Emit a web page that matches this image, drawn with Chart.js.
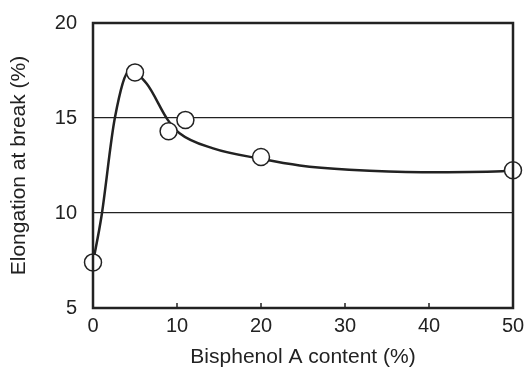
<!DOCTYPE html>
<html>
<head>
<meta charset="utf-8">
<script src="https://cdn.jsdelivr.net/npm/chart.js@4"></script>
<style>
  html, body { margin: 0; padding: 0; background: #fff; }
  #wrap { width: 525px; height: 370px; }
</style>
</head>
<body>
<div id="wrap"><canvas id="chart" width="525" height="370"></canvas></div>
<script>
// measured points
const contentX = [0, 5, 9, 11, 20, 50];
const elongationY = [7.4, 17.4, 14.3, 14.9, 12.95, 12.25];

// fitted curve
const curveX = [0, 1, 2.6, 4.4, 6.4, 8.9, 10.3, 14.3, 20, 24.6, 30.5, 39.2, 48.7, 50];
const curveY = [7.4, 9.8, 15.0, 17.5, 16.8, 14.9, 14.2, 13.4, 12.85, 12.5, 12.28, 12.15, 12.2, 12.25];

const xTicks = [0, 10, 20, 30, 40, 50];
const yTicks = [5, 10, 15, 20];
const gridValues = [10, 15];

const textColor = "#222";
const fontFamily = "'Liberation Sans', Arial, sans-serif";

// frame and inward tick marks
const framePlugin = {
  id: "frame",
  afterDatasetsDraw(chart) {
    const ctx = chart.ctx;
    const a = chart.chartArea;
    const xs = chart.scales.x;
    ctx.save();
    ctx.strokeStyle = "#222";
    ctx.lineWidth = 1.5;
    for (let i = 1; i < xTicks.length - 1; i++) {
      let px = xs.getPixelForValue(xTicks[i]);
      ctx.beginPath();
      ctx.moveTo(px, a.bottom);
      ctx.lineTo(px, a.bottom - 5);
      ctx.stroke();
    }
    ctx.lineWidth = 2.5;
    ctx.strokeRect(a.left, a.top, a.right - a.left, a.bottom - a.top);
    ctx.restore();
  }
};

function buildCurve() {
  let pts = [];
  for (let i = 0; i < curveX.length; i++) pts.push({ x: curveX[i], y: curveY[i] });
  return pts;
}

function buildPoints() {
  let pts = [];
  for (let i = 0; i < contentX.length; i++) pts.push({ x: contentX[i], y: elongationY[i] });
  return pts;
}

new Chart(document.getElementById("chart").getContext("2d"), {
  type: "scatter",
  data: {
    datasets: [
      {
        label: "Measured",
        data: buildPoints(),
        showLine: false,
        pointRadius: 8.5,
        pointHoverRadius: 8.5,
        pointBackgroundColor: "#fff",
        pointBorderColor: "#222",
        pointBorderWidth: 1.5,
        clip: false
      },
      {
        label: "Fit",
        data: buildCurve(),
        showLine: true,
        pointRadius: 0,
        borderColor: "#222",
        borderWidth: 2.5,
        cubicInterpolationMode: "monotone",
        fill: false
      }
    ]
  },
  plugins: [framePlugin],
  options: {
    responsive: false,
    animation: false,
    events: [],
    layout: { padding: { top: 23, right: 12, left: 0, bottom: 0 } },
    plugins: {
      legend: { display: false },
      tooltip: { enabled: false }
    },
    scales: {
      x: {
        type: "linear",
        min: 0,
        max: 50,
        afterBuildTicks: function (scale) {
          scale.ticks = xTicks.map(function (v) { return { value: v }; });
        },
        afterFit: function (scale) {
          scale.height = 62;
          scale.paddingRight = 0;
          scale.paddingLeft = 0;
        },
        grid: { display: false, drawTicks: false },
        border: { display: false },
        ticks: {
          color: textColor,
          padding: 6,
          maxRotation: 0,
          font: { family: fontFamily, size: 20 }
        },
        title: {
          display: true,
          text: "Bisphenol A content (%)",
          color: textColor,
          padding: { top: 0, bottom: 0 },
          font: { family: fontFamily, size: 21 }
        }
      },
      y: {
        type: "linear",
        min: 5,
        max: 20,
        afterBuildTicks: function (scale) {
          scale.ticks = yTicks.map(function (v) { return { value: v }; });
        },
        afterFit: function (scale) {
          scale.width = 93;
          scale.paddingTop = 0;
          scale.paddingBottom = 0;
        },
        grid: {
          drawTicks: false,
          lineWidth: 1.2,
          color: function (c) {
            return gridValues.includes(c.tick.value) ? "#222" : "rgba(0,0,0,0)";
          }
        },
        border: { display: false },
        ticks: {
          color: textColor,
          padding: 16,
          font: { family: fontFamily, size: 20 }
        },
        title: {
          display: true,
          text: "Elongation at break (%)",
          color: textColor,
          padding: { top: 7, bottom: 0 },
          font: { family: fontFamily, size: 21 }
        }
      }
    }
  }
});
</script>
</body>
</html>
